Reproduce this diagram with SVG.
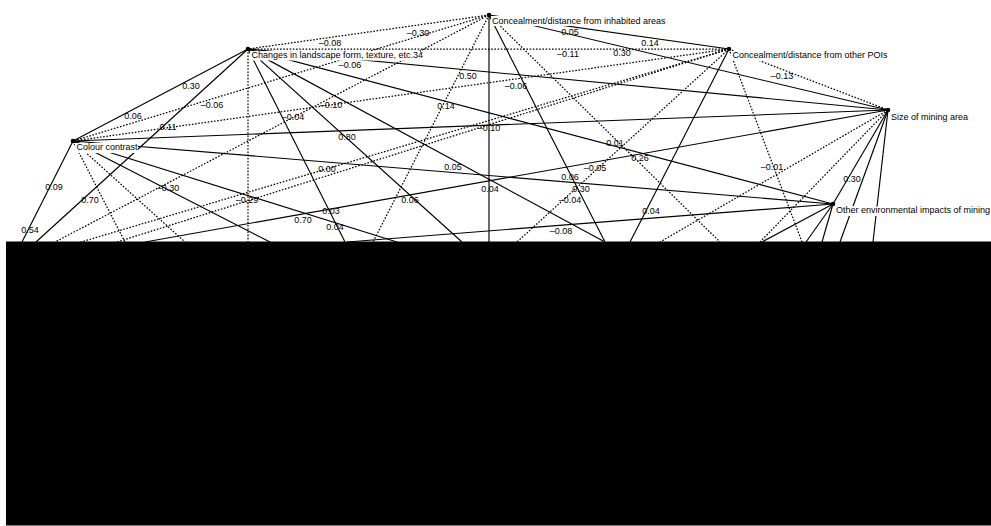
<svg xmlns="http://www.w3.org/2000/svg" width="991" height="526" viewBox="0 0 991 526">
<style>
.s{stroke:#000;stroke-width:1.15;fill:none}
.d{stroke:#000;stroke-width:1.25;fill:none;stroke-dasharray:1.6 1.6}
.nl{font-family:"Liberation Sans",Arial,sans-serif;font-size:9px;fill:#000}
.el{font-family:"Liberation Sans",Arial,sans-serif;font-size:9px;fill:#000;text-anchor:middle}
.bg{fill:#fff}
.dot{fill:#000}
</style>
<rect width="991" height="526" fill="#fff"/>
<g id="connectors">
<line class="s" x1="489" y1="15" x2="729" y2="49"/>
<line class="s" x1="489" y1="15" x2="888" y2="110"/>
<line class="s" x1="489" y1="15" x2="489" y2="242"/>
<line class="s" x1="489" y1="15" x2="605" y2="242"/>
<line class="s" x1="248" y1="49" x2="73" y2="141"/>
<line class="s" x1="248" y1="49" x2="888" y2="110"/>
<line class="s" x1="248" y1="49" x2="833" y2="204"/>
<line class="s" x1="248" y1="49" x2="36" y2="242"/>
<line class="s" x1="248" y1="49" x2="345" y2="242"/>
<line class="s" x1="248" y1="49" x2="462" y2="242"/>
<line class="s" x1="248" y1="49" x2="605" y2="242"/>
<line class="s" x1="73" y1="141" x2="888" y2="110"/>
<line class="s" x1="73" y1="141" x2="833" y2="204"/>
<line class="s" x1="73" y1="141" x2="22" y2="242"/>
<line class="s" x1="73" y1="141" x2="270" y2="242"/>
<line class="s" x1="73" y1="141" x2="397" y2="242"/>
<line class="s" x1="729" y1="49" x2="630" y2="242"/>
<line class="s" x1="145" y1="242" x2="888" y2="110"/>
<line class="s" x1="347" y1="242" x2="833" y2="204"/>
<line class="s" x1="888" y1="110" x2="833" y2="204"/>
<line class="s" x1="888" y1="110" x2="840" y2="242"/>
<line class="s" x1="888" y1="110" x2="873" y2="242"/>
<line class="s" x1="833" y1="204" x2="762" y2="242"/>
<line class="s" x1="833" y1="204" x2="806" y2="242"/>
<line class="s" x1="833" y1="204" x2="822" y2="242"/>
<line class="d" x1="489" y1="15" x2="248" y2="49"/>
<line class="d" x1="489" y1="15" x2="73" y2="141"/>
<line class="d" x1="489" y1="15" x2="55" y2="242"/>
<line class="d" x1="489" y1="15" x2="373" y2="242"/>
<line class="d" x1="489" y1="15" x2="720" y2="242"/>
<line class="d" x1="248" y1="49" x2="729" y2="49"/>
<line class="d" x1="248" y1="49" x2="248" y2="242"/>
<line class="d" x1="729" y1="49" x2="73" y2="141"/>
<line class="d" x1="729" y1="49" x2="888" y2="110"/>
<line class="d" x1="729" y1="49" x2="14" y2="262"/>
<line class="d" x1="729" y1="49" x2="117" y2="242"/>
<line class="d" x1="729" y1="49" x2="517" y2="242"/>
<line class="d" x1="729" y1="49" x2="802" y2="242"/>
<line class="d" x1="73" y1="141" x2="125" y2="242"/>
<line class="d" x1="73" y1="141" x2="185" y2="242"/>
<line class="d" x1="888" y1="110" x2="660" y2="242"/>
<line class="d" x1="888" y1="110" x2="760" y2="242"/>
</g>
<g id="edge-labels">
<text class="el" x="418" y="36">–0.30</text>
<text class="el" x="570" y="35">0.05</text>
<text class="el" x="330" y="46">–0.08</text>
<text class="el" x="650" y="46">0.14</text>
<text class="el" x="350" y="68">–0.06</text>
<text class="el" x="568" y="57">–0.11</text>
<text class="el" x="622" y="56">0.30</text>
<text class="el" x="782" y="79">–0.13</text>
<text class="el" x="191" y="89">0.30</text>
<text class="el" x="468" y="79">0.50</text>
<text class="el" x="516" y="89">–0.06</text>
<text class="el" x="212" y="108">–0.06</text>
<text class="el" x="133" y="119">0.06</text>
<text class="el" x="293" y="120">–0.04</text>
<text class="el" x="331" y="108">–0.10</text>
<text class="el" x="446" y="109">0.14</text>
<text class="el" x="168" y="130">0.11</text>
<text class="el" x="489" y="131">–0.10</text>
<text class="el" x="347" y="140">0.80</text>
<text class="el" x="615" y="146">0.01</text>
<text class="el" x="640" y="161">0.26</text>
<text class="el" x="595" y="171">–0.05</text>
<text class="el" x="570" y="180">0.06</text>
<text class="el" x="581" y="192">0.30</text>
<text class="el" x="570" y="203">–0.04</text>
<text class="el" x="453" y="170">0.05</text>
<text class="el" x="490" y="192">0.04</text>
<text class="el" x="327" y="172">0.00</text>
<text class="el" x="168" y="191">–0.30</text>
<text class="el" x="90" y="203">0.70</text>
<text class="el" x="54" y="190">0.09</text>
<text class="el" x="30" y="233">0.54</text>
<text class="el" x="247" y="203">–0.29</text>
<text class="el" x="303" y="223">0.70</text>
<text class="el" x="331" y="214">0.03</text>
<text class="el" x="335" y="230">0.04</text>
<text class="el" x="410" y="203">0.06</text>
<text class="el" x="561" y="234">–0.08</text>
<text class="el" x="651" y="214">0.04</text>
<text class="el" x="852" y="182">0.30</text>
<text class="el" x="772" y="170">–0.01</text>
</g>
<g id="node-A">
<rect class="bg" x="491" y="16" width="175" height="10"/>
<circle class="dot" cx="489" cy="15" r="2.3"/>
<text class="nl" x="492" y="24">Concealment/distance from inhabited areas</text>
</g>
<g id="node-B">
<rect class="bg" x="250" y="51" width="170" height="9.5"/>
<circle class="dot" cx="248" cy="49" r="2.3"/>
<text class="nl" x="251.5" y="58">Changes in landscape form, texture, etc.34</text>
</g>
<g id="node-C">
<rect class="bg" x="731" y="51" width="150" height="10"/>
<circle class="dot" cx="729" cy="49" r="2.3"/>
<text class="nl" x="732.5" y="58">Concealment/distance from other POIs</text>
</g>
<g id="node-D">
<rect class="bg" x="890" y="112" width="80" height="10"/>
<circle class="dot" cx="888" cy="110" r="2.3"/>
<text class="nl" x="891" y="120">Size of mining area</text>
</g>
<g id="node-E">
<rect class="bg" x="75" y="143" width="63" height="10"/>
<circle class="dot" cx="73" cy="141" r="2.3"/>
<text class="nl" x="76.5" y="150">Colour contrast</text>
</g>
<g id="node-F">
<rect class="bg" x="835" y="206" width="154" height="10"/>
<circle class="dot" cx="833" cy="204" r="2.3"/>
<text class="nl" x="836" y="213">Other environmental impacts of mining</text>
</g>
<rect id="cover" x="6" y="241.5" width="985" height="284" fill="#000"/>
</svg>
